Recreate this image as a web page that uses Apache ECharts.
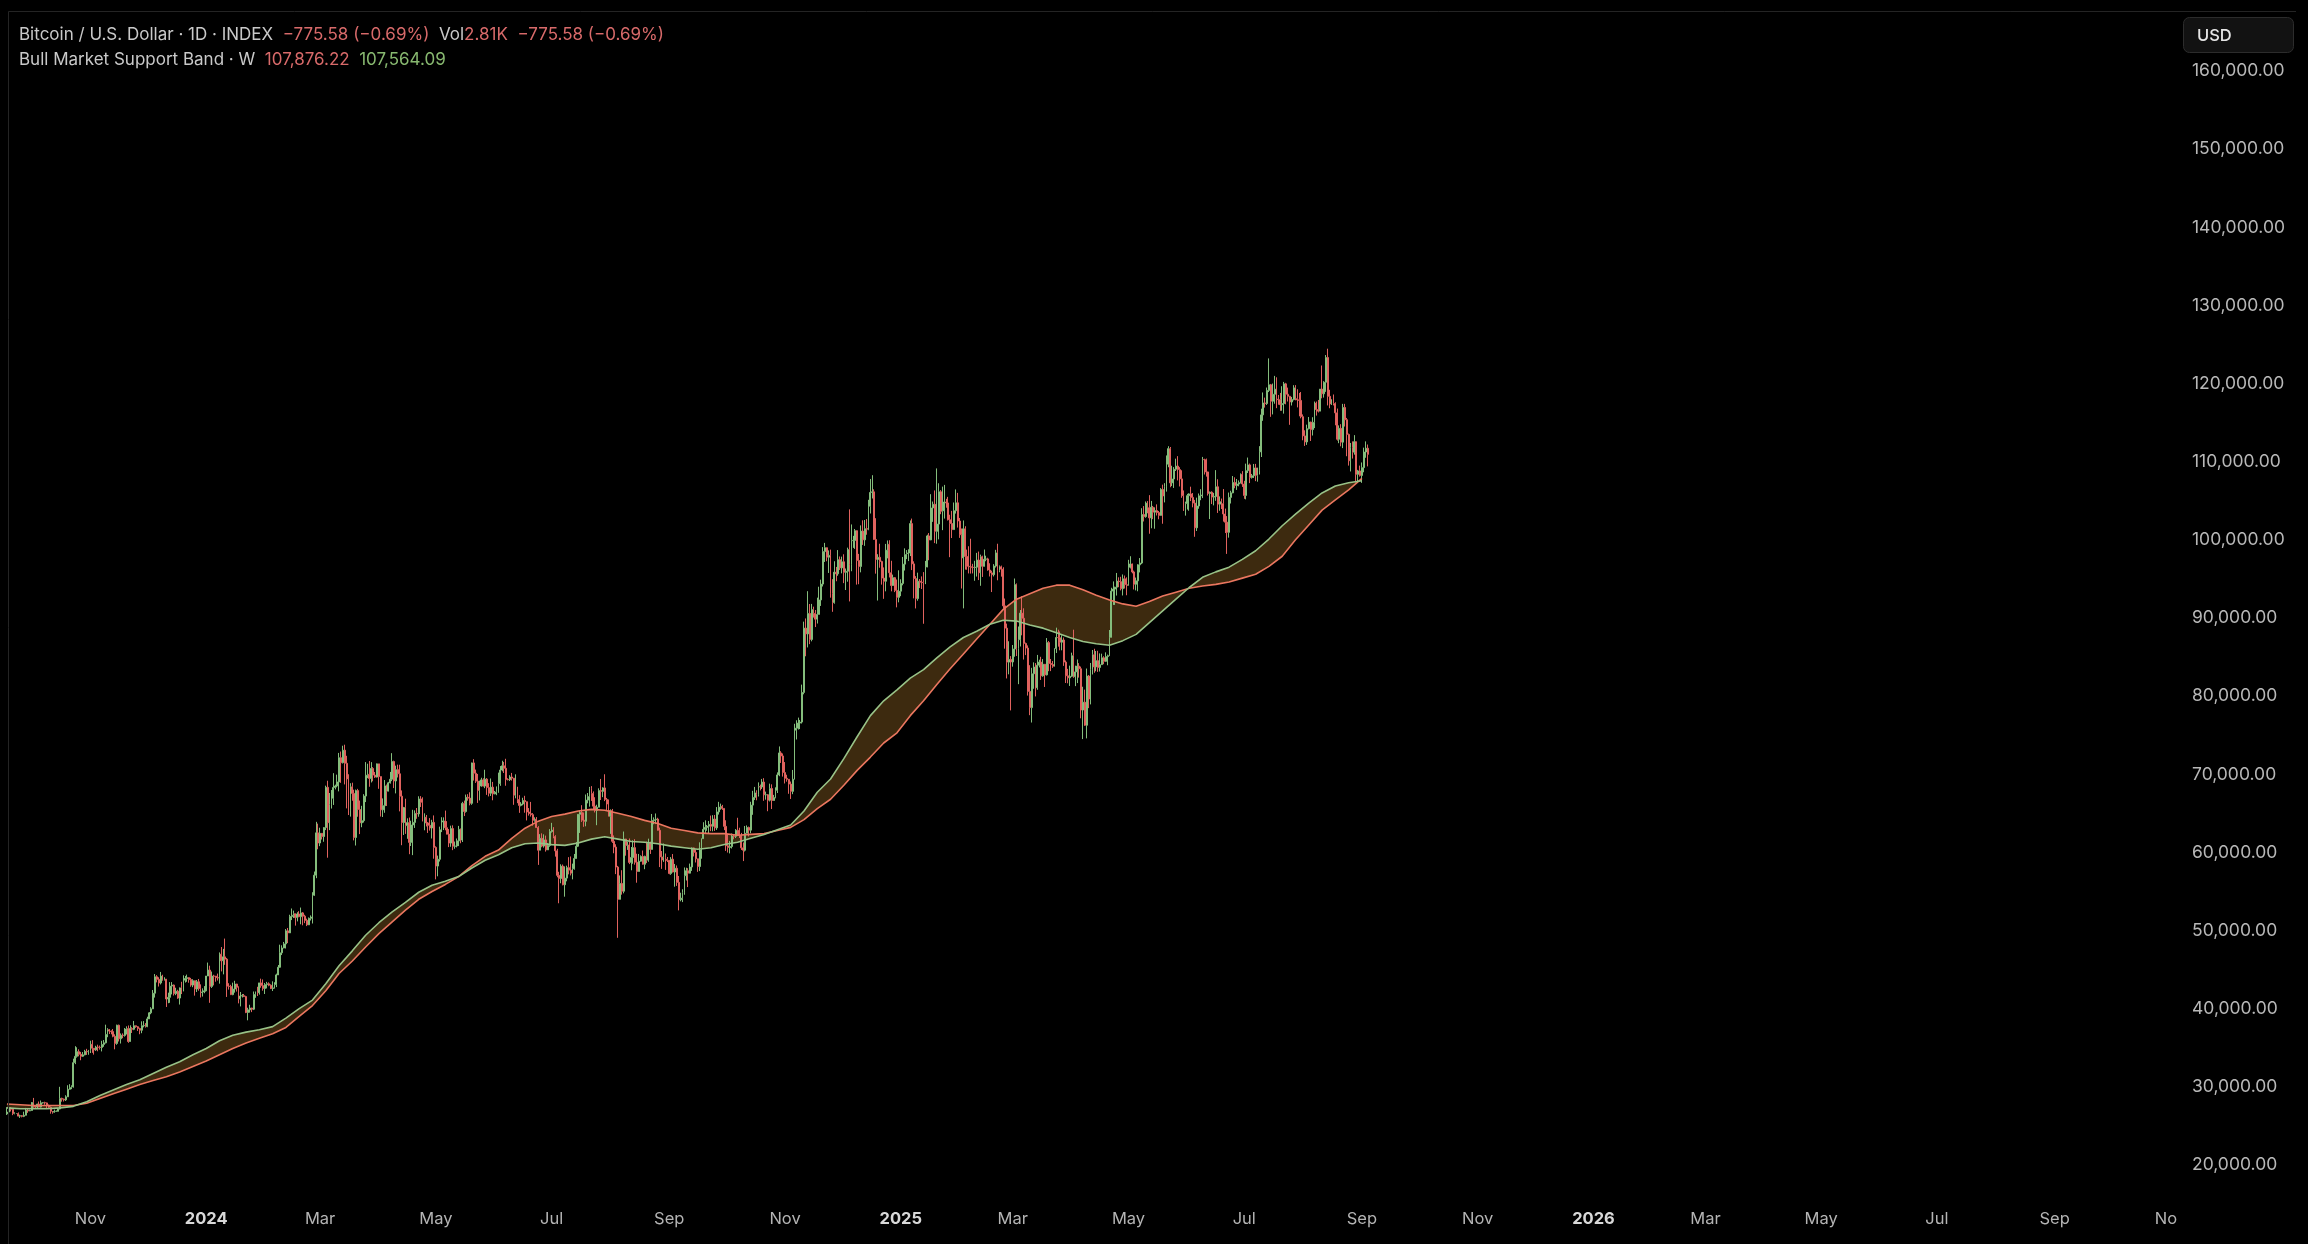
<!DOCTYPE html>
<html><head><meta charset="utf-8">
<script src="https://cdn.jsdelivr.net/npm/echarts@6/dist/echarts.min.js"></script>
<style>html,body{margin:0;padding:0;background:#000;}#c{width:2308px;height:1244px;}</style>
</head><body><div id="c"></div><script>
const FONT = 'Inter, "Noto Sans", Roboto, sans-serif';
const START_DATE = '2023-09-18';
const AXIS_DAYS = 1144;
const monthNames = ['Jan','Feb','Mar','Apr','May','Jun','Jul','Aug','Sep','Oct','Nov','Dec'];

// Daily BTC prices in thousands USD (open = previous close)
const firstOpenK = 26.53;
const closeK = [
[26.77,27.21,27.13,26.57,26.58,26.58,26.25,26.30,26.22,26.36,27.02,26.91,26.97],
[27.99,27.53,27.43,27.79,27.41,27.95,27.97,27.94,27.59,27.39,26.87,26.76,26.86,26.86,27.16,28.52,28.42,28.33,28.72,29.68,29.91,29.99,33.09,33.90,34.50,34.16,33.91,34.09,34.54,34.49,34.67],
[35.44,34.94,34.73,35.08,35.05,35.04,35.42,35.63,36.70,37.31,37.13,37.07,36.46,35.55,37.88,36.15,36.60,36.58,37.39,37.45,35.80,37.46,37.36,37.82,37.69,37.46,37.24,37.82,37.86,37.71],
[38.69,39.47,39.98,41.98,44.08,43.75,43.29,44.17,43.71,43.78,41.24,41.45,42.89,43.02,41.93,42.24,41.36,42.66,42.26,43.65,43.86,43.97,43.72,43.02,43.58,42.52,43.44,42.58,42.07,42.14,42.28],
[44.18,44.94,42.85,44.18,44.16,43.97,43.93,46.97,46.13,46.63,46.34,42.88,42.84,41.80,42.51,43.15,42.74,41.26,41.62,41.67,41.55,39.51,39.85,40.08,39.93,41.82,42.12,42.04,43.30,42.95,42.58],
[43.08,43.19,43.00,42.58,42.66,43.08,44.32,45.30,47.15,47.77,48.29,49.96,49.70,51.80,51.95,52.16,51.66,52.12,51.78,52.26,51.84,51.30,50.73,51.57,51.73,54.52,57.08,62.50,61.20],
[62.44,62.03,63.17,68.33,63.80,66.11,66.93,68.30,68.50,69.02,72.12,71.48,73.08,71.40,69.40,65.32,68.39,67.55,61.91,67.91,65.49,63.78,64.06,67.21,69.88,69.99,69.45,70.74,69.89,69.64,71.33],
[69.70,65.45,65.98,68.51,67.84,68.90,69.36,71.63,69.14,70.59,70.06,67.19,63.82,65.74,63.43,63.81,61.28,63.51,63.84,64.99,64.93,66.84,66.41,64.28,64.50,63.77,63.46,63.12,63.84,60.64],
[58.25,59.12,62.89,63.89,64.03,63.16,62.33,61.19,63.05,60.79,60.82,61.48,62.94,61.58,66.27,65.23,67.05,66.94,66.28,71.45,70.13,69.12,67.93,68.50,69.28,68.49,69.37,68.29,67.57,68.35,67.49],
[67.71,67.75,68.80,70.54,71.08,70.76,69.34,69.31,69.65,69.50,67.32,68.24,66.76,66.01,66.19,66.64,66.49,65.17,64.96,64.83,64.10,64.25,63.18,60.28,61.80,60.81,61.60,60.32,60.89,62.67],
[62.85,62.03,60.20,57.06,56.66,58.24,55.86,56.71,58.05,57.73,57.34,57.90,59.21,60.79,64.87,65.10,64.12,63.97,66.69,67.14,68.19,67.55,65.92,65.37,65.78,67.91,67.81,68.25,66.78,66.19,64.62],
[65.36,61.42,60.68,58.12,53.99,56.03,55.03,61.71,60.88,60.95,58.72,59.35,60.61,58.74,57.56,58.87,59.48,58.48,59.49,59.01,61.17,60.38,64.09,64.18,64.26,62.83,59.42,59.03,59.36,59.12,58.97],
[57.30,59.13,57.49,57.97,56.16,53.95,54.14,54.84,57.02,57.65,57.34,58.13,60.57,60.00,59.18,58.19,60.31,61.76,62.95,63.20,63.35,63.58,63.34,64.26,63.14,65.18,65.79,65.89,65.63,63.33],
[60.84,60.63,60.75,62.09,62.06,62.82,62.22,62.13,60.58,60.28,62.45,63.19,62.85,66.05,67.04,67.61,67.40,68.41,68.37,69.00,67.37,67.38,66.68,68.17,66.64,67.01,67.94,69.91,72.73,72.34,70.22],
[69.48,69.35,68.74,67.81,69.36,75.64,75.90,76.55,76.68,80.47,88.70,87.96,90.58,87.25,91.07,90.59,89.85,90.46,92.31,94.34,98.50,98.99,97.78,98.01,93.10,91.97,95.86,95.65,97.46,96.41],
[97.19,95.84,95.98,98.75,96.89,99.90,99.92,101.17,97.35,96.59,101.12,100.00,101.43,101.37,104.30,106.06,106.14,100.05,97.49,97.76,97.22,95.10,94.70,98.68,99.43,95.79,94.16,95.16,93.53,92.64,93.43],
[94.42,96.89,98.11,98.24,98.31,102.08,96.92,95.04,92.48,94.70,94.57,94.52,94.50,96.53,100.50,99.99,104.08,104.55,101.09,102.02,106.15,103.65,103.71,104.84,104.72,102.57,102.09,101.31,103.73,104.74,102.41],
[100.65,97.69,101.41,97.87,96.61,96.55,96.48,96.46,96.50,97.41,95.78,97.84,96.61,97.51,97.56,96.14,95.77,95.54,96.64,98.33,96.12,96.55,96.25,91.55,88.70,84.35,84.70,84.37],
[86.03,94.27,86.12,87.22,90.62,89.96,86.74,86.15,80.60,78.53,82.86,83.72,81.07,83.96,84.35,82.60,84.08,82.72,86.85,84.17,84.04,83.83,86.08,87.50,87.47,86.90,87.18,84.35,82.60,82.34,82.54],
[85.17,82.49,83.10,83.84,83.50,78.22,79.22,76.27,82.57,79.63,83.40,85.29,83.74,84.54,83.67,84.03,84.90,84.45,85.06,85.17,87.52,93.44,93.70,93.94,94.72,94.65,93.75,95.01,94.26,94.17],
[96.49,96.91,95.89,94.32,94.75,96.80,97.03,103.24,102.97,104.70,104.11,102.81,104.17,103.54,103.74,103.49,103.13,106.45,105.61,106.79,109.68,111.67,107.29,107.79,109.03,109.44,108.99,107.80,105.64,103.98,104.64],
[105.65,105.88,105.43,104.70,101.54,104.33,105.63,105.73,110.27,110.26,108.69,105.93,106.09,105.47,105.55,106.79,104.57,104.88,104.63,103.31,102.26,100.96,105.43,106.01,107.34,106.95,107.14,107.32,108.38,107.14],
[105.68,108.85,109.59,107.98,108.20,109.20,108.26,108.92,111.25,115.99,117.52,117.44,119.12,119.84,117.74,118.63,119.28,118.00,117.94,117.30,117.44,119.96,118.63,118.37,117.64,117.95,119.45,118.06,117.92,117.84,115.76],
[113.30,112.53,114.22,115.07,114.11,115.03,117.50,116.67,116.47,119.29,118.69,120.17,123.34,118.36,117.39,117.49,117.45,116.25,112.87,114.27,112.50,116.94,115.37,113.49,110.12,111.79,111.22,112.56,108.38,108.82,108.24],
[109.24,111.24,111.72,110.94]
].flat();
const highK = [
[27.40,27.48,27.38,27.16,26.74,26.63,26.72,26.43,26.39,26.82,27.30,27.23,27.08],
[28.05,28.58,27.67,27.83,28.12,28.25,28.03,28.09,27.99,27.73,27.48,26.84,27.09,26.97,27.29,30.00,28.61,28.50,28.92,30.20,30.34,30.19,33.60,35.20,35.06,34.80,34.47,34.45,34.73,34.86,34.72],
[35.90,35.97,34.94,35.25,35.39,35.28,35.89,35.98,37.95,37.50,37.40,37.22,37.40,36.72,37.95,37.96,36.83,36.84,37.52,37.74,37.85,37.87,37.63,38.43,37.85,37.77,37.56,38.38,38.41,38.15],
[38.97,39.57,40.19,42.39,44.43,44.29,44.02,44.70,44.34,44.02,43.80,42.05,43.40,43.40,43.09,42.68,42.42,42.71,43.44,44.27,44.19,44.36,44.02,43.94,43.77,43.58,43.67,43.80,43.11,42.60,42.89],
[44.18,45.90,45.50,44.75,44.34,44.19,44.49,47.20,47.89,47.65,48.97,46.49,43.26,43.06,43.33,43.57,43.19,42.86,42.14,41.87,41.88,41.65,40.12,40.50,40.13,42.20,42.20,42.80,43.31,43.84,43.74],
[43.29,43.43,43.37,43.11,43.50,43.38,44.48,45.59,48.19,48.11,48.54,50.19,50.33,52.02,52.82,52.55,52.17,52.34,52.48,52.94,52.37,52.02,51.52,51.67,51.94,54.90,57.55,63.91,63.68],
[63.16,62.46,63.23,68.54,69.17,67.60,67.98,70.14,68.67,69.95,72.73,72.91,73.65,73.78,72.36,70.00,68.85,68.92,68.03,68.04,68.13,66.63,65.96,67.45,71.56,71.35,71.70,71.55,70.91,70.29,71.37],
[71.33,69.70,66.91,69.26,68.68,69.02,70.30,72.70,71.74,71.10,71.23,71.22,67.93,65.82,66.87,64.36,64.46,64.05,65.45,65.38,65.68,67.18,67.20,67.05,65.00,64.79,63.89,64.39,64.17,64.73],
[60.78,59.59,63.29,64.50,64.48,65.35,64.00,62.99,63.42,63.46,61.39,61.78,63.39,63.06,66.47,66.63,67.40,67.45,67.69,71.49,71.93,70.60,70.04,69.18,69.55,69.48,70.58,69.51,68.86,69.46,69.02],
[67.86,68.44,70.21,71.05,71.73,71.58,71.98,69.49,69.88,70.17,69.53,69.99,68.40,67.32,66.43,66.99,67.24,66.49,65.67,66.46,65.03,64.49,64.52,63.36,62.34,62.44,62.31,62.15,61.19,62.98],
[63.78,63.23,62.20,60.46,57.52,58.48,58.45,58.21,58.30,59.39,59.48,58.56,59.80,61.34,64.89,65.35,66.04,65.11,67.41,67.60,68.38,68.48,67.80,67.06,66.10,68.20,69.40,68.33,70.00,66.97,66.77],
[65.50,65.56,62.17,61.04,58.27,57.05,57.72,62.67,61.74,61.38,61.78,60.69,61.55,61.69,59.83,59.80,59.62,60.24,59.58,61.38,61.76,61.37,64.92,64.48,64.98,64.43,63.17,60.18,61.14,59.86,59.41],
[59.03,59.40,59.79,58.52,58.33,56.98,54.84,55.28,58.07,58.04,57.98,58.57,60.63,60.63,60.39,59.19,61.29,61.79,63.86,64.10,63.51,64.02,64.71,64.76,64.79,65.80,66.47,66.24,66.08,65.63],
[64.11,62.36,61.47,62.42,62.34,62.98,64.43,63.16,62.50,61.27,63.38,63.45,63.30,66.48,67.88,68.38,67.95,68.96,68.68,69.40,69.50,67.78,67.47,68.80,68.71,67.36,68.33,70.24,73.56,72.95,72.66],
[71.56,69.94,69.37,69.07,70.55,76.46,76.91,77.25,76.95,81.47,89.53,89.94,93.43,91.79,91.80,91.45,91.02,92.60,94.00,94.90,99.07,99.61,99.02,98.65,98.75,94.97,97.26,96.53,98.69,97.87],
[97.85,98.15,96.33,99.00,103.90,101.97,100.51,101.39,101.21,98.20,101.85,102.50,102.54,102.66,105.12,107.79,108.27,106.47,102.77,98.16,99.50,97.33,96.47,99.48,99.92,99.95,97.32,95.55,95.24,94.92,96.10],
[94.95,97.81,98.91,98.69,98.79,102.48,102.72,97.25,95.35,95.80,94.98,95.32,95.87,97.30,100.65,100.87,105.84,104.90,106.32,109.14,107.24,106.36,106.81,107.03,105.25,105.50,103.21,103.71,104.78,106.45,106.01],
[102.80,101.45,102.48,101.74,98.75,99.18,100.14,96.93,97.32,98.33,98.50,98.11,97.97,98.76,97.97,97.71,97.00,96.05,96.89,98.72,99.50,96.72,96.70,96.49,92.49,89.28,87.02,85.12],
[86.54,95.05,94.42,88.91,91.02,92.78,91.24,86.85,86.49,83.96,83.62,84.32,84.23,85.27,84.66,85.03,84.74,84.05,87.43,87.05,84.75,84.49,86.12,88.76,88.50,88.27,87.79,87.50,84.56,83.49,83.90],
[85.56,88.50,83.90,84.69,84.22,83.78,81.20,80.83,83.53,82.70,84.24,85.90,86.06,85.77,85.80,85.47,85.43,85.10,85.60,85.31,88.46,93.87,94.68,94.00,95.76,95.20,95.27,95.57,95.43,95.20],
[97.44,97.90,96.96,96.06,95.17,96.88,97.67,104.05,104.32,104.91,104.96,105.72,104.98,104.34,104.16,104.54,103.69,106.61,107.06,107.25,110.80,111.98,111.88,109.48,109.31,110.39,110.71,109.30,108.90,106.32,104.89],
[105.88,105.96,106.80,105.99,105.11,105.40,105.93,106.48,110.61,110.38,110.40,108.73,106.18,106.21,106.01,108.92,107.75,105.56,105.28,106.50,104.00,103.04,106.05,106.28,108.17,108.00,107.79,107.60,108.50,108.79],
[107.55,109.75,110.53,109.76,108.43,109.71,109.72,109.24,111.99,116.78,118.86,118.20,119.49,123.22,119.95,120.00,120.98,120.80,118.54,118.80,119.66,120.21,120.09,119.48,118.43,118.29,119.79,119.80,119.27,118.80,118.92],
[116.05,114.02,114.74,115.72,115.12,115.69,117.70,117.70,117.90,119.30,122.31,120.30,123.65,124.46,119.20,117.99,118.60,117.60,116.80,114.65,114.80,117.40,117.40,115.60,113.60,112.40,112.60,113.40,112.60,108.95,109.50],
[109.90,111.80,112.60,112.20]
].flat();
const lowK = [
[26.40,26.68,26.84,26.37,26.48,26.52,26.22,26.02,26.09,26.12,26.34,26.67,26.89],
[26.95,27.33,27.18,27.24,27.38,27.35,27.86,27.70,27.29,27.31,26.56,26.56,26.69,26.82,26.84,27.12,28.10,28.12,28.19,28.71,29.65,29.70,29.90,32.90,33.73,33.90,33.40,33.83,34.03,34.08,34.10],
[34.32,34.35,34.12,34.60,34.55,34.76,34.53,35.12,35.55,36.35,36.76,36.72,36.34,34.80,35.38,35.80,35.54,36.22,36.42,36.70,35.63,35.78,36.89,37.25,37.55,37.15,36.73,36.86,37.61,37.58],
[37.63,38.70,39.29,39.95,41.42,43.36,42.83,43.10,43.58,43.60,40.22,40.70,40.75,41.83,41.68,41.73,41.26,40.53,41.87,42.21,43.34,43.44,43.32,42.81,42.75,41.67,42.13,42.30,41.43,41.55,41.98],
[42.18,44.18,40.75,42.65,42.98,43.45,43.60,43.20,44.77,44.39,45.61,41.50,42.44,41.74,41.72,42.05,42.19,40.68,40.29,41.43,41.49,39.43,38.51,39.49,39.56,39.82,41.39,41.62,41.80,42.68,42.30],
[41.88,42.59,42.87,42.51,42.26,42.57,42.76,44.33,45.24,46.86,47.73,47.70,48.39,49.68,51.34,51.61,50.63,51.17,51.69,50.80,50.67,50.95,50.57,50.70,51.28,50.90,54.44,56.70,60.40],
[60.80,61.65,61.36,62.86,59.32,62.85,65.61,66.07,68.06,68.32,67.81,68.90,71.38,68.70,65.63,64.78,64.58,66.61,61.54,60.88,64.56,62.34,63.22,63.82,66.44,69.50,68.40,68.95,69.10,69.53,69.59],
[68.14,64.59,64.53,65.07,65.94,67.81,68.81,69.12,68.23,67.55,69.59,65.25,60.92,62.23,62.37,61.74,59.77,60.82,59.65,63.13,64.30,64.56,65.81,63.96,62.83,63.32,62.49,62.79,61.78,59.19],
[56.55,56.94,58.83,62.60,62.86,62.83,62.31,60.68,60.72,60.29,60.47,60.64,60.81,61.17,61.33,64.65,65.09,66.62,66.02,66.09,69.19,68.89,66.33,66.65,68.41,68.43,68.22,67.36,67.16,67.22,66.67],
[67.44,67.32,67.63,68.52,70.38,70.16,68.53,69.21,69.13,69.19,66.09,66.92,66.30,65.06,65.89,66.03,65.08,64.09,64.71,64.58,63.42,63.93,63.15,58.40,60.28,60.66,60.61,60.10,60.34,60.72],
[62.53,61.81,59.46,56.81,53.49,56.05,55.79,54.33,56.30,57.19,57.05,56.55,57.79,59.32,60.68,62.49,63.90,63.27,63.34,66.28,65.85,66.59,65.44,65.11,63.48,65.78,66.70,67.07,66.56,65.38,64.60],
[62.37,61.22,59.89,57.22,49.07,53.99,54.59,54.76,59.58,60.32,58.50,57.71,58.55,58.43,56.12,57.78,58.80,58.44,57.85,58.63,58.80,59.80,60.37,63.60,63.62,62.80,58.12,57.89,58.79,57.76,58.76],
[57.20,57.13,57.43,55.61,55.71,52.58,53.74,53.64,54.58,56.40,55.56,57.31,57.63,59.48,58.71,57.51,57.61,59.19,61.75,62.39,62.77,62.37,62.72,62.70,62.75,62.88,64.84,65.46,65.44,62.85],
[60.19,59.98,59.87,60.50,61.68,61.84,62.09,61.84,60.31,58.89,60.12,62.46,62.05,62.45,64.81,66.71,66.67,67.15,67.93,68.12,66.60,66.75,65.27,66.52,65.55,66.64,66.92,67.60,69.75,71.45,69.70],
[68.82,69.05,67.50,66.84,67.45,69.33,74.45,75.72,75.78,76.49,80.23,85.10,86.23,86.65,87.01,90.05,88.84,89.29,90.81,91.54,94.03,97.17,97.26,95.76,92.60,90.79,91.83,94.70,95.40,96.14],
[95.71,94.46,93.58,94.64,92.12,95.98,98.97,98.84,94.27,94.32,95.84,99.35,99.23,100.65,101.23,103.37,105.29,100.00,95.67,92.23,96.43,94.27,92.45,93.41,97.63,95.18,93.41,94.11,93.31,91.36,92.00],
[92.79,94.18,96.07,97.53,97.28,97.92,96.13,92.51,91.22,92.21,93.83,93.71,89.26,94.33,96.49,97.39,99.95,102.30,99.58,99.50,100.06,103.28,101.24,102.72,104.11,102.48,97.78,100.23,101.36,103.36,101.57],
[100.25,93.77,91.23,96.19,96.17,95.70,95.68,95.70,94.76,95.30,94.85,94.12,95.25,96.58,97.26,96.05,95.31,93.32,95.31,96.45,94.82,95.85,95.29,91.19,86.07,82.26,82.79,78.17],
[83.77,85.04,85.13,81.53,86.35,87.78,84.68,85.25,80.07,77.56,76.62,80.94,79.96,80.81,83.67,82.07,82.48,81.17,82.64,83.19,83.20,83.62,83.77,85.52,86.33,85.86,85.86,83.87,81.68,81.64,81.30],
[82.44,82.34,81.28,81.67,82.37,77.16,74.50,76.20,74.59,78.46,78.94,82.77,82.99,83.18,83.10,83.15,83.98,84.08,84.39,83.95,85.12,87.60,91.67,91.67,92.87,93.94,93.53,92.88,93.77,92.91],
[94.14,96.34,95.71,93.65,93.53,93.42,95.83,96.89,102.35,102.83,103.40,100.78,101.48,102.65,101.42,103.12,102.63,103.11,102.06,104.79,106.17,109.29,106.73,106.88,106.64,108.81,107.60,106.83,105.38,103.70,103.10],
[103.88,103.72,104.96,104.16,100.39,101.13,103.98,105.07,105.34,108.36,108.09,105.67,102.66,104.58,104.41,104.99,103.44,103.72,103.95,102.33,100.87,98.20,100.28,104.65,105.96,106.60,106.39,106.85,107.21,106.77],
[105.25,105.18,108.55,107.26,107.84,107.92,107.51,107.44,108.36,110.60,115.23,116.92,117.26,118.91,115.74,116.05,117.42,116.85,117.29,116.51,116.52,116.15,117.34,117.70,114.72,117.19,117.85,117.85,116.95,115.81,115.55],
[112.74,112.02,112.15,114.13,112.65,113.35,114.30,115.90,116.30,116.47,118.11,118.20,118.94,117.20,116.84,117.26,117.20,114.66,112.70,112.37,111.97,111.74,114.50,110.70,109.50,108.75,110.40,110.90,107.35,107.50,108.10],
[107.29,108.65,110.50,109.40]
].flat();

// Bull Market Support Band, weekly points (every 7 days from START_DATE), thousands USD
const bandRedK = [27.8,27.7,27.6,27.6,27.6,27.6,27.9,28.5,29.1,29.7,30.3,30.8,31.3,31.9,32.6,
33.3,34.1,34.9,35.6,36.2,36.8,37.6,39.0,40.4,42.3,
44.5,46.1,47.9,49.6,51.1,52.6,54.0,55.0,55.9,56.9,
58.3,59.5,60.3,61.8,63.1,64.0,64.6,64.9,65.3,65.5,
65.4,65.0,64.6,64.1,63.7,63.1,62.8,62.5,62.4,62.4,
62.2,62.3,62.4,62.8,63.2,64.2,65.6,66.8,68.6,70.5,
72.2,74.0,75.3,77.5,79.4,81.5,83.5,85.4,87.3,89.2,
91.1,92.4,93.1,93.8,94.2,94.2,93.6,92.9,92.3,91.8,
91.5,92.1,92.8,93.3,93.8,94.1,94.3,94.6,95.1,95.6,
96.6,97.9,100.0,101.9,103.8,105.1,106.4,107.87622];
const bandGreenK = [27.3,27.2,27.2,27.2,27.3,27.5,28.1,28.9,29.6,30.3,30.9,31.7,32.5,33.2,34.1,
34.9,35.9,36.6,37.0,37.3,37.7,38.8,40.0,41.1,43.2,
45.5,47.4,49.4,51.0,52.4,53.6,54.9,55.8,56.3,56.9,
58.0,59.0,59.7,60.6,61.1,61.2,61.0,60.9,61.2,61.7,
62.0,61.7,61.4,61.3,61.1,60.8,60.6,60.4,60.6,61.0,
61.3,61.8,62.3,62.9,63.5,65.3,67.7,69.4,72.0,74.8,
77.5,79.4,80.8,82.3,83.4,84.9,86.3,87.5,88.3,89.2,
89.7,89.6,89.1,88.7,88.1,87.5,87.0,86.7,86.5,87.1,
87.9,89.4,90.9,92.4,93.9,95.2,95.9,96.5,97.5,98.6,
100.1,101.8,103.3,104.7,106.0,106.9,107.3,107.56409];
const BAND_STEP_DAYS = 7;

const legendLine1 = ['Bitcoin / U.S. Dollar · 1D · INDEX', '−775.58 (−0.69%)', 'Vol', '2.81K', '−775.58 (−0.69%)'];
const legendLine2 = ['Bull Market Support Band · W', '107,876.22', '107,564.09'];

// ---- build ----
const categories = [];
const t0 = Date.parse(START_DATE + 'T00:00:00Z');
for (let i = 0; i < AXIS_DAYS; i++) categories.push(new Date(t0 + i * 86400000).toISOString().slice(0, 10));

const candles = closeK.map((c, i) => {
  const o = i === 0 ? firstOpenK : closeK[i - 1];
  const h = Math.max(highK[i], o, c), l = Math.min(lowK[i], o, c);
  return [o * 1000, c * 1000, l * 1000, h * 1000];
});
const redLine = bandRedK.map((v, i) => [i * BAND_STEP_DAYS, v * 1000]);
const greenLine = bandGreenK.map((v, i) => [i * BAND_STEP_DAYS, v * 1000]);
const bandData = bandRedK.map((v, i) => [i * BAND_STEP_DAYS, v * 1000, bandGreenK[i] * 1000]);

const UP = '#84bd7c', DOWN = '#e0625e';
const RED_LINE = '#ea765f', GREEN_LINE = '#98c287';
const TXT = '#c9c9c9', TXT_RED = '#d86a6a', TXT_GREEN = '#88b970';
const LEG_FS = 17;

const chart = echarts.init(document.getElementById('c'), null, {renderer: 'canvas'});
chart.setOption({
  animation: false,
  backgroundColor: '#000000',
  title: [
    {left: 19, top: 25, padding: 0,
     text: '{t|' + legendLine1[0] + '}  {r|' + legendLine1[1] + '}  {t|' + legendLine1[2] + '}{r|' + legendLine1[3] + '}  {r|' + legendLine1[4] + '}',
     textStyle: {fontFamily: FONT, fontSize: LEG_FS, fontWeight: 'normal', color: TXT, lineHeight: 20,
       rich: {t: {fontFamily: FONT, fontSize: LEG_FS, color: TXT, lineHeight: 20}, r: {fontFamily: FONT, fontSize: LEG_FS, color: TXT_RED, lineHeight: 20}}}},
    {left: 19, top: 50, padding: 0,
     text: '{t|' + legendLine2[0] + '}  {r|' + legendLine2[1] + '}  {g|' + legendLine2[2] + '}',
     textStyle: {fontFamily: FONT, fontSize: LEG_FS, fontWeight: 'normal', color: TXT, lineHeight: 20,
       rich: {t: {fontFamily: FONT, fontSize: LEG_FS, color: TXT, lineHeight: 20}, r: {fontFamily: FONT, fontSize: LEG_FS, color: TXT_RED, lineHeight: 20}, g: {fontFamily: FONT, fontSize: LEG_FS, color: TXT_GREEN, lineHeight: 20}}}}
  ],
  grid: {left: 6, right: 131, top: 12, bottom: 49, containLabel: false, outerBoundsMode: 'none'},
  xAxis: {
    type: 'category', data: categories, boundaryGap: true,
    axisLine: {show: false}, axisTick: {show: false}, splitLine: {show: false},
    axisLabel: {
      margin: 16,
      interval: (idx, v) => v.slice(8, 10) === '01' && (+v.slice(5, 7)) % 2 === 1,
      formatter: (v) => { const m = +v.slice(5, 7); return m === 1 ? '{y|' + v.slice(0, 4) + '}' : '{m|' + monthNames[m - 1] + '}'; },
      rich: {
        y: {fontFamily: FONT, fontSize: 16.5, fontWeight: 'bold', color: '#d8d8d8'},
        m: {fontFamily: FONT, fontSize: 16.5, color: '#b4b4b4'}
      }
    }
  },
  yAxis: {
    type: 'value', position: 'right', min: 16155, max: 167550, splitNumber: 15,
    axisLine: {show: false}, axisTick: {show: false}, splitLine: {show: false},
    axisLabel: {
      margin: 15, fontFamily: FONT, fontSize: 17.5, color: '#b8b8b8',
      formatter: (v) => (Math.abs(v % 10000) < 1 && v >= 20000 && v <= 160000)
        ? v.toLocaleString('en-US', {minimumFractionDigits: 2, maximumFractionDigits: 2}) : ''
    }
  },
  series: [
    {
      type: 'custom', name: 'band fill', data: bandData, encode: {x: 0, y: [1, 2]}, z: 1, silent: true, clip: true,
      renderItem: function (params, api) {
        if (params.dataIndex !== 0) return null;
        const pts = [];
        for (let i = 0; i < redLine.length; i++) pts.push(api.coord(redLine[i]));
        for (let i = greenLine.length - 1; i >= 0; i--) pts.push(api.coord(greenLine[i]));
        return {type: 'polygon', shape: {points: pts}, style: {fill: 'rgba(145,100,35,0.42)'}};
      }
    },
    {
      type: 'candlestick', name: 'BTCUSD', data: candles, z: 2, large: false, barWidth: '72%',
      itemStyle: {color: UP, color0: DOWN, borderColor: UP, borderColor0: DOWN, borderWidth: 1}
    },
    {type: 'line', name: 'SMA', data: redLine, z: 3, showSymbol: false, symbol: 'none', silent: true,
     lineStyle: {color: RED_LINE, width: 1.6}},
    {type: 'line', name: 'EMA', data: greenLine, z: 3, showSymbol: false, symbol: 'none', silent: true,
     lineStyle: {color: GREEN_LINE, width: 1.6}}
  ],
  graphic: [
    {type: 'line', z: 50, silent: true, shape: {x1: 8.5, y1: 11.5, x2: 2296, y2: 11.5}, style: {stroke: '#242424', lineWidth: 1}},
    {type: 'line', z: 50, silent: true, shape: {x1: 8.5, y1: 11.5, x2: 8.5, y2: 1244}, style: {stroke: '#242424', lineWidth: 1}},
    {type: 'rect', z: 60, silent: true, shape: {x: 2177, y: 1197, width: 131, height: 47}, style: {fill: '#000000'}},
    {type: 'rect', z: 60, silent: true, shape: {x: 2183.5, y: 17.5, width: 110, height: 35, r: 6}, style: {fill: '#121212', stroke: '#2c2c2c', lineWidth: 1}},
    {type: 'text', z: 61, silent: true, x: 2197, y: 36, style: {text: 'USD', fill: '#e6e6e6', font: '500 16.5px ' + FONT, verticalAlign: 'middle', align: 'left'}}
  ]
});
</script></body></html>
